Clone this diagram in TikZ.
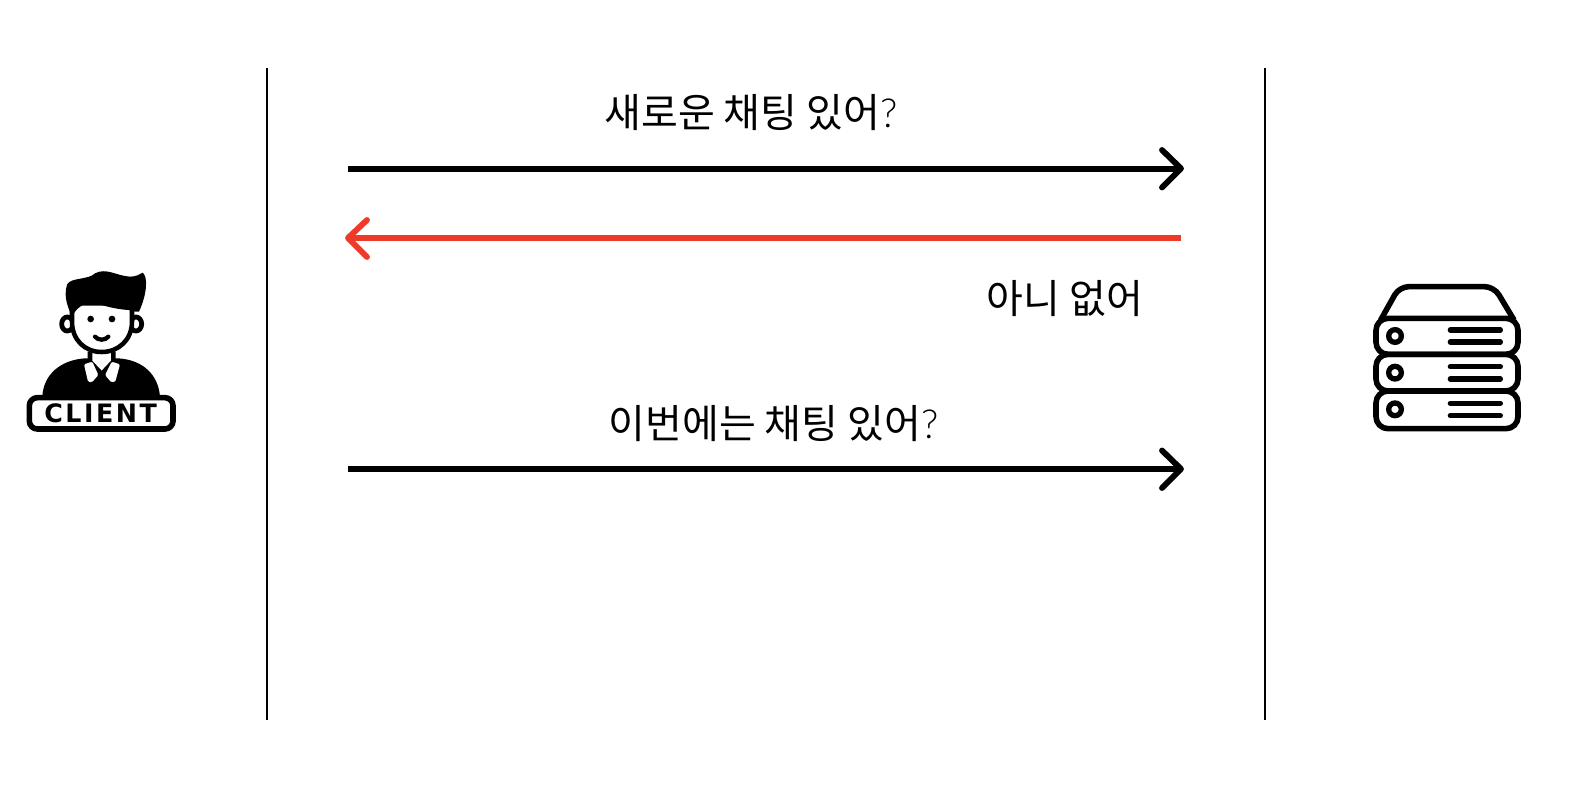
\documentclass[tikz,border=0pt]{standalone}
\usepackage{fontspec}
\setmainfont{Noto Sans CJK KR}
\newfontfamily\qfont{Lato Light}
\newfontfamily\clientfont[LetterSpace=10]{DejaVu Sans Bold}
\definecolor{redarrow}{HTML}{EE3A29}
\tikzset{
  msg/.style={inner sep=0pt,font=\fontsize{30pt}{36pt}\selectfont,text=black},
  wall/.style={draw=black,line width=1.3pt},
  shaft/.style={line width=4.5pt},
  barb/.style={line width=4.4pt,line cap=round,line join=round},
  ico/.style={draw=black,line width=4.2pt,line join=round},
}
\newcommand{\qm}{{\qfont\fontsize{30pt}{36pt}\selectfont ?}}
\begin{document}
\begin{tikzpicture}[x=0.75pt,y=-0.75pt]
\useasboundingbox (0,0) rectangle (1576,788);
\fill[white] (0,0) rectangle (1576,788);
% walls
\coordinate (wl1) at (267,68); \coordinate (wl2) at (267,720);
\coordinate (wr1) at (1265,68); \coordinate (wr2) at (1265,720);
\draw[wall] (wl1) -- (wl2);
\draw[wall] (wr1) -- (wr2);
% arrows
\coordinate (a1s) at (348,168.5); \coordinate (a1e) at (1181,168.5);
\coordinate (a1u) at (1162,150); \coordinate (a1d) at (1162,187.5);
\draw[shaft] (a1s) -- (a1e);
\draw[barb] (a1u) -- (a1e) -- (a1d);
\coordinate (a2s) at (1181,238); \coordinate (a2e) at (348,238);
\coordinate (a2u) at (367,220); \coordinate (a2d) at (367,257);
\draw[shaft,redarrow] (a2s) -- (a2e);
\draw[barb,redarrow] (a2u) -- (a2e) -- (a2d);
\coordinate (a3s) at (348,469); \coordinate (a3e) at (1181,469);
\coordinate (a3u) at (1162,450.5); \coordinate (a3d) at (1162,488);
\draw[shaft] (a3s) -- (a3e);
\draw[barb] (a3u) -- (a3e) -- (a3d);
% labels
\node[msg] (t1) at (751,113) {새로운 채팅 있어\qm};
\node[msg] (t2) at (773.5,424) {이번에는 채팅 있어\qm};
\node[msg] (t3) at (1065,298.5) {아니 없어};
% client icon
\begin{scope}[shift={(10,250)},x=0.25pt,y=-0.25pt]
  % body
  \fill[black] (97,440) .. controls (100,375) and (150,330) .. (225,325) -- (325,325)
     .. controls (400,330) and (445,375) .. (450,440) -- cycle;
  % neck
  \fill[white] (246,315) -- (304,315) -- (304,335) -- (275,368) -- (246,335) -- cycle;
  \draw[black,line width=3.4pt] (240,305) -- (240,335) -- (275,372) -- (310,335) -- (310,305);
  % collars
  \fill[white,rounded corners=1pt] (222,343) -- (247,335) -- (265,375) -- (246,397) -- (234,395) -- cycle;
  \fill[white,rounded corners=1pt] (330,343) -- (305,335) -- (285,375) -- (304,397) -- (316,395) -- cycle;
  % ears
  \draw[ico,fill=white,line width=3.6pt] (172,222) ellipse[x radius=17,y radius=21];
  \draw[ico,fill=white,line width=3.6pt] (378,222) ellipse[x radius=17,y radius=21];
  % face
  \draw[ico,fill=white,line width=3.4pt] (186,160) -- (186,215) .. controls (186,270) and (225,306) .. (275,306)
     .. controls (325,306) and (366,270) .. (366,215) -- (366,160) -- cycle;
  % hair
  \fill[black] (182,190) .. controls (168,160) and (162,130) .. (172,102)
     .. controls (185,82) and (235,90) .. (255,70)
     .. controls (290,52) and (320,78) .. (360,80)
     .. controls (380,80) and (390,72) .. (398,68)
     .. controls (414,80) and (412,130) .. (387,185)
     .. controls (375,186) and (365,183) .. (355,180)
     .. controls (320,178) and (280,168) .. (245,155)
     .. controls (220,160) and (200,175) .. (190,192) -- cycle;
  % eyes and smile
  \fill[black] (242,207) circle[radius=10];
  \fill[black] (306,207) circle[radius=10];
  \draw[black,line width=3.2pt,line cap=round] (255,260) .. controls (265,272) and (285,272) .. (295,260);
  % badge
  \draw[ico,fill=white,rounded corners=6pt] (58,443) rectangle (489,537);
  \node[inner sep=0pt,font=\clientfont\fontsize{19pt}{20pt}\selectfont] (clientlabel) at (272,490) {CLIENT};
\end{scope}
% server icon
\begin{scope}[shift={(1350,270)},x=0.25pt,y=-0.25pt]
  \draw[ico,rounded corners=7pt] (92,150) -- (148,50) -- (432,50) -- (492,150);
  \draw[ico,rounded corners=9pt] (78,145) rectangle (504,253);
  \draw[ico,rounded corners=9pt] (78,253) rectangle (504,363);
  \draw[ico,rounded corners=9pt] (78,363) rectangle (504,476);
  \foreach \cy/\la/\lb in {198/180/216, 308/290/327, 418/400/437}{
    \draw[black,line width=4pt] (135,\cy) circle[radius=19];
    \draw[black,line width=4pt,line cap=round] (301,\la) -- (451,\la);
    \draw[black,line width=4pt,line cap=round] (301,\lb) -- (451,\lb);
  }
\end{scope}
\end{tikzpicture}
\end{document}
